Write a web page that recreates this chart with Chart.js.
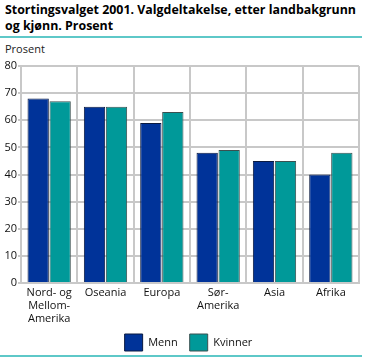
<!DOCTYPE html>
<html>
<head>
<meta charset="utf-8">
<script src="https://cdn.jsdelivr.net/npm/chart.js@4/dist/chart.umd.min.js"></script>
<style>
  body { margin: 0; background: #fff; font-family: "Open Sans", sans-serif; }
  #wrap { position: relative; width: 365px; height: 359px; overflow: hidden; }
  #tittel { position: absolute; left: 5px; top: 2px; font-weight: bold; font-size: 12.4px; line-height: 16px; color: #000; white-space: nowrap; }
  .strek { position: absolute; left: 0; width: 362px; height: 2px; background: #5ec8c8; }
  #enhet { position: absolute; left: 5px; top: 41px; font-size: 11px; color: #222; }
  #boks { position: absolute; left: 0; top: 56px; width: 365px; height: 305px; }
</style>
</head>
<body>
<div id="wrap">
  <div id="tittel">Stortingsvalget 2001. Valgdeltakelse, etter landbakgrunn<br>og kjønn. Prosent</div>
  <div class="strek" style="top:36px"></div>
  <div id="enhet">Prosent</div>
  <div id="boks"><canvas id="graf"></canvas></div>
  <div class="strek" style="top:355px"></div>
</div>
<script>
const kategorier = [["Nord- og", "Mellom-", "Amerika"], "Oseania", "Europa", ["Sør-", "Amerika"], "Asia", "Afrika"];
const menn = [68, 65, 59, 48, 45, 40];
const kvinner = [67, 65, 63, 49, 45, 48];

// flytter forklaringen litt mot høyre, som i originalen
const flyttLegend = {
    id: 'flyttLegend',
    afterLayout: chart => {
        chart.legend.left += 9;
        chart.legend.right += 9;
    }
};

const ctx = document.getElementById('graf').getContext('2d');
new Chart(ctx, {
    type: 'bar',
    data: {
        labels: kategorier,
        datasets: [{
            label: 'Menn',
            data: menn,
            backgroundColor: '#003399',
            borderColor: '#0a1a40',
            borderWidth: 1,
            barPercentage: 0.97,
            categoryPercentage: 0.78
        }, {
            label: 'Kvinner',
            data: kvinner,
            backgroundColor: '#009999',
            borderColor: '#3a5050',
            borderWidth: 1,
            barPercentage: 0.97,
            categoryPercentage: 0.78
        }]
    },
    options: {
        responsive: true,
        maintainAspectRatio: false,
        animation: false,
        layout: { padding: { top: 10, right: 6, left: 0, bottom: 0 } },
        plugins: {
            title: { display: false },
            tooltip: { enabled: false },
            legend: {
                display: true,
                position: 'bottom',
                labels: {
                    boxWidth: 18, boxHeight: 17, padding: 12,
                    color: '#111',
                    font: { family: 'Open Sans', size: 11 }
                }
            }
        },
        scales: {
            x: {
                grid: { color: '#c8c8c8', lineWidth: 2, offset: true, tickLength: 0 },
                border: { color: '#c8c8c8', width: 2 },
                ticks: { color: '#111', font: { family: 'Open Sans', size: 11 }, maxRotation: 0, autoSkip: false, padding: 3 },
                afterFit: s => { s.height = 39; }
            },
            y: {
                min: 0, max: 80,
                grid: { color: '#c8c8c8', lineWidth: 2, tickLength: 3 },
                border: { color: '#c8c8c8', width: 2 },
                ticks: { stepSize: 10, color: '#111', font: { family: 'Open Sans', size: 11 }, padding: 1 },
                afterFit: s => { s.width = 21; }
            }
        }
    },
    plugins: [flyttLegend]
});
</script>
</body>
</html>
